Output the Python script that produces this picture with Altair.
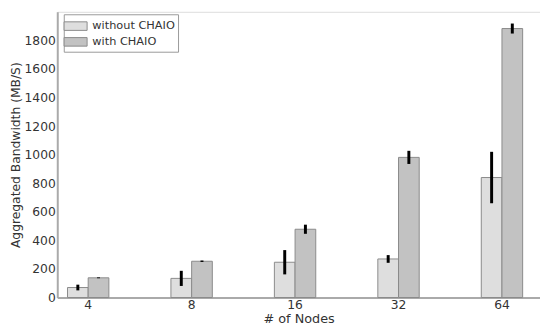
import altair as alt
import pandas as pd

nodes = ["4", "8", "16", "32", "64"]
series = ["without CHAIO", "with CHAIO"]
without_vals = [70, 134, 247, 270, 840]
without_err = [20, 53, 85, 27, 180]
with_vals = [138, 254, 478, 981, 1883]
with_err = [3, 5, 32, 46, 35]
y_ticks = [0, 200, 400, 600, 800, 1000, 1200, 1400, 1600, 1800]

rows = []
for i, n in enumerate(nodes):
    rows.append(dict(nodes=n, series=series[0], value=without_vals[i],
                     lo=without_vals[i] - without_err[i], hi=without_vals[i] + without_err[i]))
    rows.append(dict(nodes=n, series=series[1], value=with_vals[i],
                     lo=with_vals[i] - with_err[i], hi=with_vals[i] + with_err[i]))
df = pd.DataFrame(rows)

FONT = "DejaVu Sans"
TXT = "#333333"

x_axis = alt.Axis(title="# of Nodes", labelAngle=0, ticks=False, labelPadding=1,
                  titlePadding=1.5, labelFont=FONT, titleFont=FONT, labelFontSize=12.5,
                  titleFontSize=13, titleFontWeight="normal", labelColor=TXT,
                  titleColor=TXT, domainColor="#aaaaaa", domainWidth=2)
x_scale = alt.Scale(paddingInner=0.6, paddingOuter=0.1333, align=0.371)
xo = alt.XOffset("series:N", sort=series, scale=alt.Scale(domain=series, paddingInner=0, paddingOuter=0))
y_axis = alt.Axis(title="Aggregated Bandwidth (MB/S)", values=y_ticks, format="d", labelOverlap=False,
                  tickCount=10, ticks=False, grid=False,
                  labelPadding=2, titlePadding=2, labelFont=FONT, titleFont=FONT,
                  labelFontSize=12.5, titleFontSize=12.5, titleFontWeight="normal",
                  labelColor=TXT, titleColor=TXT, domainColor="#aaaaaa", domainWidth=2)
y_scale = alt.Scale(domain=[0, 2000], nice=False)

bars = alt.Chart(df).mark_bar(stroke="#8a8a8a", strokeWidth=1).encode(
    x=alt.X("nodes:N", sort=nodes, scale=x_scale, axis=x_axis), xOffset=xo,
    y=alt.Y("value:Q", scale=y_scale, axis=y_axis),
    fill=alt.Fill("series:N", sort=series,
                  scale=alt.Scale(domain=series, range=["#dedede", "#c2c2c2"]),
                  legend=alt.Legend(title=None, orient="none", legendX=6.6, legendY=2.5,
                                    symbolType="M-1.4,-0.52H1.4V0.52H-1.4Z", symbolSize=279,
                                    symbolStrokeColor="#8a8a8a", symbolStrokeWidth=1,
                                    labelFont=FONT, labelFontSize=11.5, labelColor=TXT,
                                    labelOffset=8, rowPadding=0, padding=3,
                                    strokeColor="#999999", fillColor="white")),
)

errs = alt.Chart(df).mark_rule(color="black", strokeWidth=3).encode(
    x=alt.X("nodes:N", sort=nodes, scale=x_scale, axis=x_axis), xOffset=xo,
    y=alt.Y("lo:Q", scale=y_scale, axis=y_axis), y2="hi:Q",
)

chart = alt.layer(bars, errs).properties(
    width=490, height=290,
    padding={"left": 50, "top": 1.5, "right": 0, "bottom": 25},
    autosize=alt.AutoSizeParams(type="none"),
).configure_view(stroke="#b0b0b0", strokeWidth=1.5).configure(background="white")

chart.save("out.html", embed_options={"renderer": "svg", "actions": False})
